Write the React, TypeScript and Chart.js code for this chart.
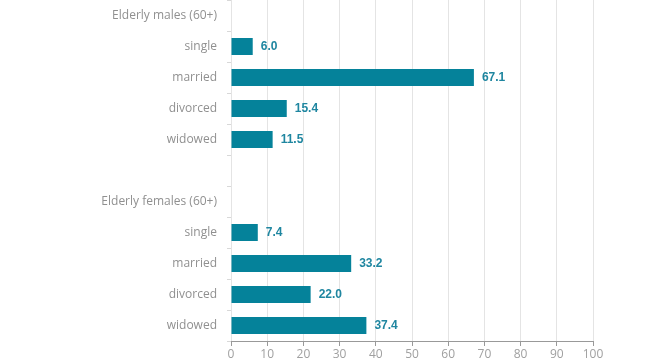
import React, { useEffect, useRef } from "react";
import { Chart, registerables } from "chart.js";

Chart.register(...registerables);

const categories = [
  "Elderly males (60+)",
  "single",
  "married",
  "divorced",
  "widowed",
  "",
  "Elderly females (60+)",
  "single",
  "married",
  "divorced",
  "widowed",
];
const values: (number | null)[] = [null, 6.0, 67.1, 15.4, 11.5, null, null, 7.4, 33.2, 22.0, 37.4];
const xMin = 0;
const xMax = 100;
const xStep = 10;

const BAR = "#05829a";
const LABEL = "#1f86a0";

const valueLabels = {
  id: "valueLabels",
  afterDatasetsDraw(chart: any) {
    const ctx = chart.ctx;
    const meta = chart.getDatasetMeta(0);
    ctx.save();
    ctx.font = "bold 12px 'Liberation Sans', Arial, sans-serif";
    ctx.fillStyle = LABEL;
    ctx.textBaseline = "middle";
    ctx.textAlign = "left";
    meta.data.forEach((el: any, i: number) => {
      const v = values[i];
      if (v === null || v === undefined) return;
      ctx.fillText(v.toFixed(1), el.x + 8, el.y);
    });
    ctx.restore();
  },
};

export default function App() {
  const ref = useRef<HTMLCanvasElement | null>(null);
  useEffect(() => {
    if (!ref.current) return;
    const chart = new Chart(ref.current, {
      type: "bar",
      data: {
        labels: categories,
        datasets: [
          {
            data: values as any,
            backgroundColor: BAR,
            borderWidth: 0,
            categoryPercentage: 1,
            barPercentage: 0.55,
          },
        ],
      },
      options: {
        indexAxis: "y",
        animation: false,
        responsive: false,
        maintainAspectRatio: false,
        layout: { padding: { top: 0, right: 57, bottom: 0, left: 0 } },
        plugins: { legend: { display: false }, tooltip: { enabled: false } },
        scales: {
          x: {
            min: xMin,
            max: xMax,
            ticks: {
              stepSize: xStep,
              color: "#a0a0a0",
              font: { family: "'Open Sans', sans-serif", size: 12 },
              padding: 1,
            },
            grid: {
              color: "#e4e4e4",
              tickColor: "#999999",
              tickLength: 5,
            },
            border: { display: true, color: "#999999" },
            afterFit: (s: any) => {
              s.height = 21;
            },
          },
          y: {
            ticks: {
              color: "#909090",
              font: { family: "'Open Sans', sans-serif", size: 12 },
              padding: 10,
              autoSkip: false,
            },
            grid: {
              offset: true,
              drawOnChartArea: false,
              tickLength: 4,
              color: "#d8d8d8",
            },
            border: { display: false },
            afterFit: (s: any) => {
              s.width = 231;
              s.paddingTop = 0;
              s.paddingBottom = 0;
            },
          },
        },
      },
      plugins: [valueLabels],
    });
    return () => chart.destroy();
  }, []);
  return (
    <div style={{ position: "fixed", left: 0, top: 0, width: 650, height: 362, background: "#fff" }}>
      <canvas ref={ref} width={650} height={362} style={{ width: 650, height: 362 }} />
    </div>
  );
}
